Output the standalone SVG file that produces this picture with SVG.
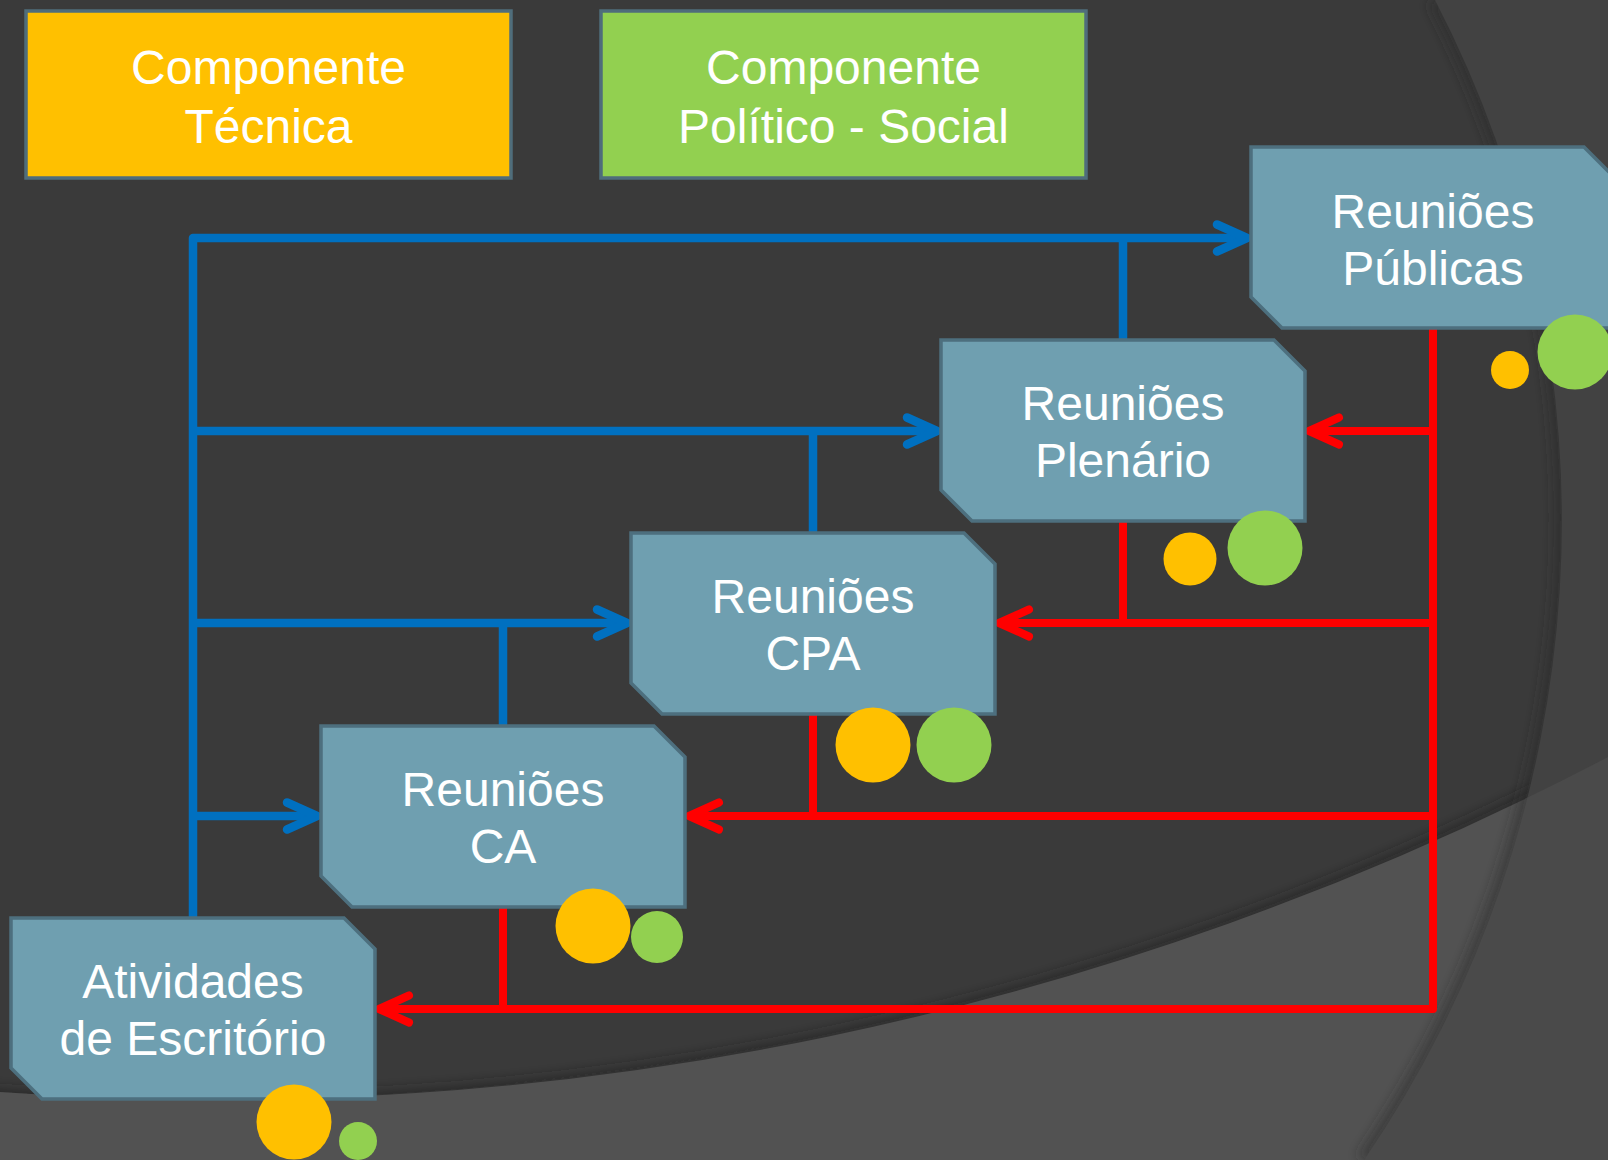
<svg xmlns="http://www.w3.org/2000/svg" width="1608" height="1160" viewBox="0 0 1608 1160">
<style>
.box{stroke:#4f6d7b;stroke-width:3.5}
.node{fill:#6f9fb0;stroke:#4d6f7e;stroke-width:3.5;stroke-linejoin:miter}
.t{font-family:"Liberation Sans",Arial,sans-serif;font-size:48px;fill:#ffffff;text-anchor:middle}
.y{fill:#ffc000}
.g{fill:#92d050}
.b{fill:none;stroke:#0070c0;stroke-width:8.5;stroke-linejoin:round}
.r{fill:none;stroke:#ff0000;stroke-width:8;stroke-linejoin:round}
</style>
<defs>
<marker id="ab" markerUnits="userSpaceOnUse" orient="auto" viewBox="-40 -22 48 44" refX="0" refY="0" markerWidth="48" markerHeight="44">
<path d="M-30,-13.5 L0,0 L-30,13.5" fill="none" stroke="#0070c0" stroke-width="8.5" stroke-linecap="round" stroke-linejoin="round"/>
</marker>
<marker id="ar" markerUnits="userSpaceOnUse" orient="auto" viewBox="-40 -22 48 44" refX="0" refY="0" markerWidth="48" markerHeight="44">
<path d="M-30,-13.5 L0,0 L-30,13.5" fill="none" stroke="#ff0000" stroke-width="8" stroke-linecap="round" stroke-linejoin="round"/>
</marker>
<filter id="blur" x="-10%" y="-10%" width="120%" height="120%"><feGaussianBlur stdDeviation="6"/></filter>
<clipPath id="rightClip"><path d="M1435,0 A1132,1132 0 0 1 1364,1160 L1608,1160 L1608,0 Z"/></clipPath>
</defs>
<g id="background">
<rect x="0" y="0" width="1608" height="1160" fill="#3a3a3a"/>
<path d="M-20,1094 A3000,3000 0 0 0 1640,740" fill="none" stroke="#262626" stroke-opacity="0.5" stroke-width="16" filter="url(#blur)"/>
<path d="M0,1092 A3000,3000 0 0 0 1608,757 L1608,1160 L0,1160 Z" fill="#525252"/>
<path d="M1435,0 A1132,1132 0 0 1 1364,1160" fill="none" stroke="#2a2a2a" stroke-opacity="0.5" stroke-width="16" filter="url(#blur)"/>
<path d="M1435,0 A1132,1132 0 0 1 1364,1160 L1608,1160 L1608,0 Z" fill="#424242"/>
<path d="M0,1092 A3000,3000 0 0 0 1608,757 L1608,1160 L0,1160 Z" fill="#4a4a4a" clip-path="url(#rightClip)"/>
</g>
<g id="componente-tecnica">
<rect class="box" x="26" y="11" width="485" height="167" fill="#ffc000"/>
<text class="t" x="268.5" y="84">Componente</text>
<text class="t" x="268.5" y="143">Técnica</text>
</g>
<g id="componente-politico-social">
<rect class="box" x="601" y="11" width="485" height="167" fill="#92d050"/>
<text class="t" x="843.5" y="84">Componente</text>
<text class="t" x="843.5" y="143">Político - Social</text>
</g>
<g id="connectors">
<path class="b" d="M193,918 L193,238 L1247,238" marker-end="url(#ab)"/>
<path class="b" d="M1123,340 L1123,238"/>
<path class="b" d="M193,431 L937,431" marker-end="url(#ab)"/>
<path class="b" d="M813,533 L813,431"/>
<path class="b" d="M193,623 L627,623" marker-end="url(#ab)"/>
<path class="b" d="M503,726 L503,623"/>
<path class="b" d="M193,816 L317,816" marker-end="url(#ab)"/>
<path class="r" d="M1433,328 L1433,1009 L379,1009" marker-end="url(#ar)"/>
<path class="r" d="M1433,431 L1309,431" marker-end="url(#ar)"/>
<path class="r" d="M1433,623 L999,623" marker-end="url(#ar)"/>
<path class="r" d="M1123,521 L1123,623"/>
<path class="r" d="M1433,816 L689,816" marker-end="url(#ar)"/>
<path class="r" d="M813,714 L813,816"/>
<path class="r" d="M503,907 L503,1009"/>
</g>
<g id="reunioes-publicas">
<polygon class="node" points="1251,147 1584,147 1615,178 1615,328 1282,328 1251,297"/>
<text class="t" x="1433" y="228">Reuniões</text>
<text class="t" x="1433" y="285">Públicas</text>
<circle class="y" cx="1510" cy="370" r="19"/>
<circle class="g" cx="1575" cy="352" r="37.5"/>
</g>
<g id="reunioes-plenario">
<polygon class="node" points="941,340 1274,340 1305,371 1305,521 972,521 941,490"/>
<text class="t" x="1123" y="420">Reuniões</text>
<text class="t" x="1123" y="477">Plenário</text>
<circle class="y" cx="1190" cy="559" r="26.5"/>
<circle class="g" cx="1265" cy="548" r="37.5"/>
</g>
<g id="reunioes-cpa">
<polygon class="node" points="631,533 964,533 995,564 995,714 662,714 631,683"/>
<text class="t" x="813" y="613">Reuniões</text>
<text class="t" x="813" y="670">CPA</text>
<circle class="y" cx="873" cy="745" r="37.5"/>
<circle class="g" cx="954" cy="745" r="37.5"/>
</g>
<g id="reunioes-ca">
<polygon class="node" points="321,726 654,726 685,757 685,907 352,907 321,876"/>
<text class="t" x="503" y="806">Reuniões</text>
<text class="t" x="503" y="863">CA</text>
<circle class="y" cx="593" cy="926" r="37.5"/>
<circle class="g" cx="657" cy="937" r="26"/>
</g>
<g id="atividades-escritorio">
<polygon class="node" points="11,918 344,918 375,949 375,1099 42,1099 11,1068"/>
<text class="t" x="193" y="998">Atividades</text>
<text class="t" x="193" y="1055">de Escritório</text>
<circle class="y" cx="294" cy="1122" r="37.5"/>
<circle class="g" cx="358" cy="1141" r="19"/>
</g>
</svg>
